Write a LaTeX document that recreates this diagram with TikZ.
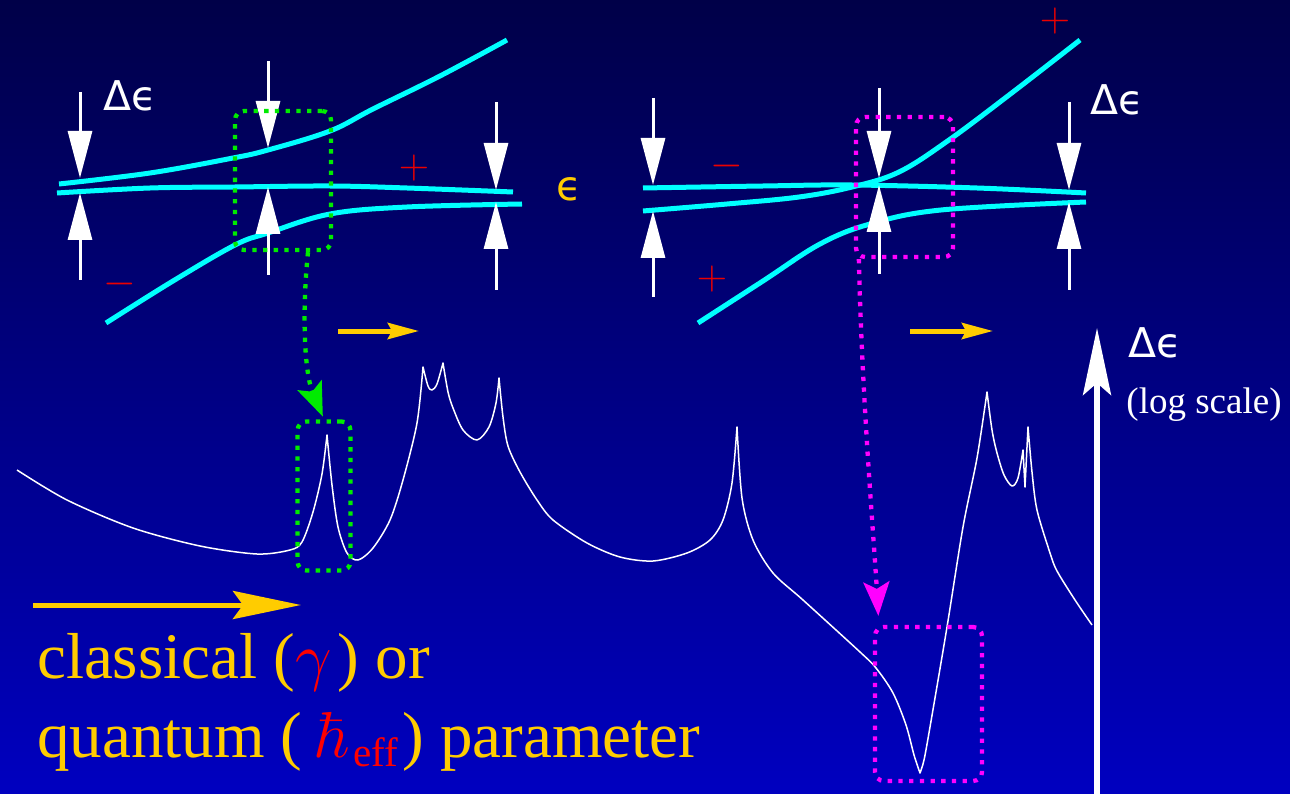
\RequirePackage{fix-cm}
\documentclass[tikz,border=0pt]{standalone}
\usepackage[no-math]{fontspec}
\setmainfont{Liberation Serif}
\newfontfamily\djsans{DejaVu Sans}
\usetikzlibrary{arrows.meta}
\definecolor{bgtop}{RGB}{0,0,72}
\definecolor{bgbot}{RGB}{0,0,192}
\definecolor{cyanl}{RGB}{0,255,255}
\definecolor{gold}{RGB}{255,204,0}
\definecolor{grn}{RGB}{0,235,0}
\definecolor{mag}{RGB}{255,0,255}
\definecolor{rd}{RGB}{235,0,0}
\tikzset{
  level/.style={cyanl, line width=5pt},
  warr/.style={white, line width=3pt, -{Triangle[length=47pt,width=24pt]}},
  yarr/.style={gold, line width=5pt, -{Stealth[length=31pt,width=16pt,inset=4pt]}},
  dotbox/.style={line width=4.3pt, dash pattern=on 4.3pt off 6.4pt, rounded corners=9pt, inner sep=0pt},
  dotarr/.style={line width=4.3pt, dash pattern=on 4.3pt off 6.4pt, -{Stealth[length=34pt,width=26pt,inset=7pt]}},
  delta/.style={white, inner sep=0pt, font=\djsans\fontsize{41}{43}\selectfont},
  sign/.style={rd, inner sep=0pt, font=\fontsize{42}{42}\selectfont},
  curve/.style={white, line width=1.5pt, line join=round}
}
\begin{document}
\begin{tikzpicture}[x=1pt,y=-1pt]
\useasboundingbox (0,0) rectangle (1290,794);
\shade[top color=bgtop, bottom color=bgbot] (0,0) rectangle (1290,794);

% ---------- left level diagram ----------
\draw[level] plot[smooth, tension=0.6] coordinates {(59,184) (150,173) (233,158) (268,150) (330,131) (373,109) (440,76) (507,40)};
\draw[level] plot[smooth, tension=0.6] coordinates {(57,193) (150,188) (235,187) (330,186) (407,188) (513,192)};
\draw[level] plot[smooth, tension=0.6] coordinates {(106,323) (173,281) (235,245) (268,233) (330,214) (407,207) (522,204)};

% ---------- right level diagram ----------
\draw[level] plot[smooth, tension=0.6] coordinates {(643,188) (763,186) (852,185) (977,188) (1086,193)};
\draw[level] plot[smooth, tension=0.6] coordinates {(643,211) (727,204) (799,197) (852,187) (899,172) (949,140) (1013,92) (1080,40)};
\draw[level] plot[smooth, tension=0.6] coordinates {(698,323) (763,281) (820,244) (870,224) (941,210) (1086,202)};

% ---------- white measuring arrows ----------
\foreach \x/\a/\b/\c/\d in {80/92/178/280/193, 268/61/148/275/187, 496/102/190/290/202,
                            653/98/185/297/211, 879/88/178/274/185, 1069/102/190/290/202}{
  \draw[warr] (\x,\a) -- (\x,\b);
  \draw[warr] (\x,\c) -- (\x,\d);
}

% ---------- labels ----------
\node[delta] (dl) at (130,96) {Δϵ};
\node[delta] (dr) at (1117,100) {Δϵ};
\node[delta, gold] (eps) at (569,189) {ϵ};
\node[sign] (p1) at (414,168) {$+$};
\node[sign] (m1) at (120,284) {$-$};
\node[sign] (m2) at (727,166) {$-$};
\node[sign] (p2) at (712,279) {$+$};
\node[sign] (p3) at (1055,21) {$+$};

% ---------- small yellow arrows ----------
\coordinate (ya1) at (338,331); \coordinate (yb1) at (419,331);
\coordinate (ya2) at (910,331); \coordinate (yb2) at (993,331);
\draw[yarr] (ya1) -- (yb1);
\draw[yarr] (ya2) -- (yb2);

% ---------- spectrum curve ----------
\draw[curve] plot[smooth, tension=0.5] coordinates {(17,470) (67,500) (133,528) (200,546) (257,554) (290,550) (302,542) (313,512) (322,474) (327,435)}
  -- plot[smooth, tension=0.5] coordinates {(327,435) (332,485) (338,527) (347,553) (358,560) (373,548) (390,520) (403,480) (417,423) (423,367)}
  -- plot[smooth, tension=0.5] coordinates {(423,367) (428,386) (432,390) (437,384) (443,363)}
  -- plot[smooth, tension=0.5] coordinates {(443,363) (448,392) (453,408) (463,430) (477,440) (489,427) (496,403) (499,378)}
  -- plot[smooth, tension=0.5] coordinates {(499,378) (503,417) (508,446) (520,472) (537,500) (553,520) (587,543) (620,557) (653,561) (687,553) (710,540) (723,520) (732,483) (737,427)}
  -- plot[smooth, tension=0.5] coordinates {(737,427) (742,498) (753,540) (773,573) (803,600) (860,652) (876,668) (893,693) (906,725) (914,755) (920,773)}
  -- plot[smooth, tension=0.5] coordinates {(920,773) (924,760) (930,727) (947,627) (963,527) (977,458) (987,392)}
  -- plot[smooth, tension=0.5] coordinates {(987,392) (992,430) (997,453) (1004,475) (1012,486) (1018,478) (1023,450)}
  -- (1025,487) -- (1028,427)
  -- plot[smooth, tension=0.5] coordinates {(1028,427) (1032,472) (1037,510) (1050,553) (1057,571) (1075,600) (1092,625)};

% ---------- dotted boxes and connectors ----------
\node[dotbox, draw=grn, minimum width=96pt, minimum height=139pt] (g1) at (283,180.5) {};
\node[dotbox, draw=grn, minimum width=53pt, minimum height=149pt] (g2) at (324,496) {};
\node[dotbox, draw=mag, minimum width=97pt, minimum height=140pt] (q1) at (904.5,187) {};
\node[dotbox, draw=mag, minimum width=107pt, minimum height=154pt] (q2) at (928.5,704) {};

\draw[dotarr, grn, shorten >=3pt] ([xshift=25pt]g1.south) .. controls (302,310) and (304,372) .. (g2.north);
\draw[dotarr, mag, shorten >=9pt] ([xshift=5pt]q1.south west) .. controls (862,400) and (874,540) .. ([xshift=6pt]q2.north west);

% ---------- big white axis arrow ----------
\coordinate (ax0) at (1097,800);
\coordinate (ax1) at (1097,328);
\draw[white, line width=5.5pt, -{Stealth[length=67pt,width=28pt,inset=12pt]}] (ax0) -- (ax1);
\node[delta] (da) at (1155,343) {Δϵ};
\node[white, inner sep=0pt, font=\fontsize{37}{40}\selectfont, anchor=base] (ls) at (1204,413) {(log scale)};

% ---------- bottom left ----------
\coordinate (ba) at (33,605); \coordinate (bb) at (301,605);
\draw[gold, line width=5pt, -{Stealth[length=68pt,width=28pt,inset=10pt]}] (ba) -- (bb);
\node[gold, inner sep=0pt, anchor=base west, align=left, font=\fontsize{65}{79}\selectfont] (txt) at (37,757)
  {classical ({\color{red}$\gamma$\kern6pt}) or\\quantum (\kern14pt{\color{red}$\hbar$\kern3pt\raisebox{-9pt}{\fontsize{41}{41}\selectfont eff}}\kern4pt) parameter};
\end{tikzpicture}
\end{document}
